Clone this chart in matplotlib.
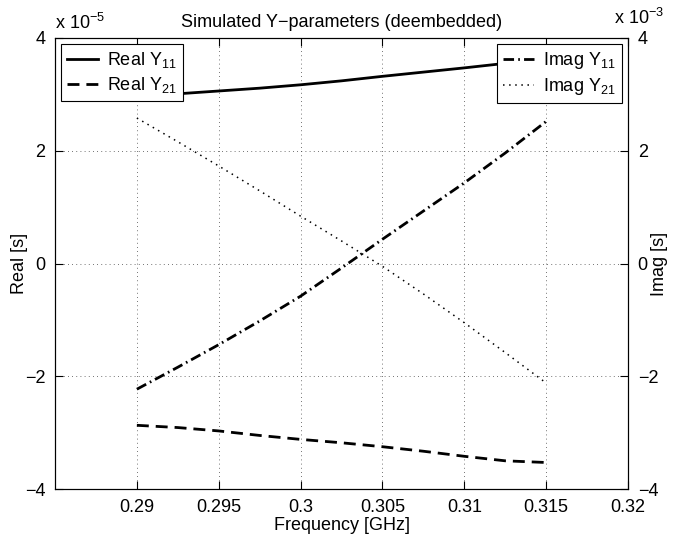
import matplotlib
matplotlib.use("Agg")
import matplotlib.pyplot as plt

plt.rcParams['font.family'] = ['Liberation Sans', 'DejaVu Sans']
plt.rcParams['mathtext.fontset'] = 'custom'
plt.rcParams['mathtext.rm'] = 'Liberation Sans'
plt.rcParams['mathtext.it'] = 'Liberation Sans:italic'

# ---- data ----
freq = [0.29, 0.2925, 0.295, 0.2975, 0.3, 0.3025, 0.305, 0.3075, 0.31, 0.3125, 0.315]
real_y11 = [2.96, 3.01, 3.06, 3.11, 3.17, 3.24, 3.32, 3.395, 3.47, 3.55, 3.63]      # x 1e-5
real_y21 = [-2.87, -2.91, -2.97, -3.05, -3.12, -3.18, -3.25, -3.33, -3.42, -3.50, -3.53]  # x 1e-5
imag_y11 = [-2.23, -1.84, -1.44, -1.02, -0.58, -0.08, 0.43, 0.93, 1.43, 1.96, 2.52]  # x 1e-3
imag_y21 = [2.58, 2.16, 1.73, 1.29, 0.84, 0.40, -0.05, -0.54, -1.05, -1.58, -2.12]  # x 1e-3

xticks = [0.29, 0.295, 0.3, 0.305, 0.31, 0.315, 0.32]
xticklabels = ['0.29', '0.295', '0.3', '0.305', '0.31', '0.315', '0.32']
yticks = [-4, -2, 0, 2, 4]

title = 'Simulated Y\u2212parameters (deembedded)'
MINUS = '\u2212'

W, H = 676, 536
fig = plt.figure(figsize=(W / 100, H / 100), dpi=100)
L, R, T, B = 55, 628, 38, 489
ax = fig.add_axes([L / W, 1 - B / H, (R - L) / W, (B - T) / H])
ax2 = ax.twinx()

fs = 13
l1, = ax.plot(freq, real_y11, color='black', lw=2.0, ls='-', label=r'Real Y$_{\mathregular{11}}$')
l2, = ax.plot(freq, real_y21, color='black', lw=2.0, ls=(0, (4.3, 2.5)), label=r'Real Y$_{\mathregular{21}}$')
l3, = ax2.plot(freq, imag_y11, color='black', lw=2.0, ls=(0, (3.8, 1.5, 0.6, 1.5)), label=r'Imag Y$_{\mathregular{11}}$')
l4, = ax2.plot(freq, imag_y21, color='black', lw=1.1, ls=(0, (1, 3)), label=r'Imag Y$_{\mathregular{21}}$')

ax.set_xlim(0.285, 0.32)
ax.set_ylim(-4, 4)
ax2.set_ylim(-4, 4)
ax.set_xticks(xticks)
ax.set_xticklabels(xticklabels)
ax.set_yticks(yticks)
ax2.set_yticks(yticks)
ax.set_yticklabels([str(v).replace('-', MINUS) for v in yticks])
ax2.set_yticklabels([str(v).replace('-', MINUS) for v in yticks])

ax.grid(True, ls=(0, (1, 4)), color='#444444', lw=0.6)
ax.tick_params(axis='both', direction='in', length=6, labelsize=fs, top=True, width=0.8, pad=7)
ax2.tick_params(axis='y', direction='in', length=6, labelsize=fs, width=0.8, pad=7)
ax.tick_params(axis='y', right=False)
for a in (ax, ax2):
    for s in a.spines.values():
        s.set_linewidth(0.8)

ax.set_xlabel('Frequency [GHz]', fontsize=fs, labelpad=1)
ax.set_ylabel('Real [s]', fontsize=fs)
ax2.set_ylabel('Imag [s]', fontsize=fs, rotation=90)
ax.yaxis.set_label_coords((20 - L) / (R - L), 0.5)
ax2.yaxis.set_label_coords((660 - L) / (R - L), 0.5)
ax2.yaxis.label.set_va('center')
ax.yaxis.label.set_va('center')
ax.set_title(title, fontsize=fs, pad=8)

ax.text(0.0, 1.012, 'x 10$^{\\mathregular{' + MINUS + '5}}$', transform=ax.transAxes,
        ha='left', va='bottom', fontsize=fs)
ax2.text((614 - L) / (R - L), 1.022, 'x 10$^{\\mathregular{' + MINUS + '3}}$', transform=ax2.transAxes,
         ha='left', va='bottom', fontsize=fs)

legkw = dict(borderaxespad=0, fontsize=fs, fancybox=False, framealpha=1, edgecolor='black',
             handlelength=1.7, handletextpad=0.5, labelspacing=0.25, borderpad=0.35)
leg1 = ax2.legend(handles=[l1, l2], loc='upper left',
                  bbox_to_anchor=(6 / (R - L), 1 - 6 / (B - T)), **legkw)
leg1.get_frame().set_linewidth(0.8)
ax2.add_artist(leg1)
leg2 = ax2.legend(handles=[l3, l4], loc='upper right',
                  bbox_to_anchor=(1 - 6 / (R - L), 1 - 6 / (B - T)), **legkw)
leg2.get_frame().set_linewidth(0.8)

fig.savefig('out.png', dpi=100)
